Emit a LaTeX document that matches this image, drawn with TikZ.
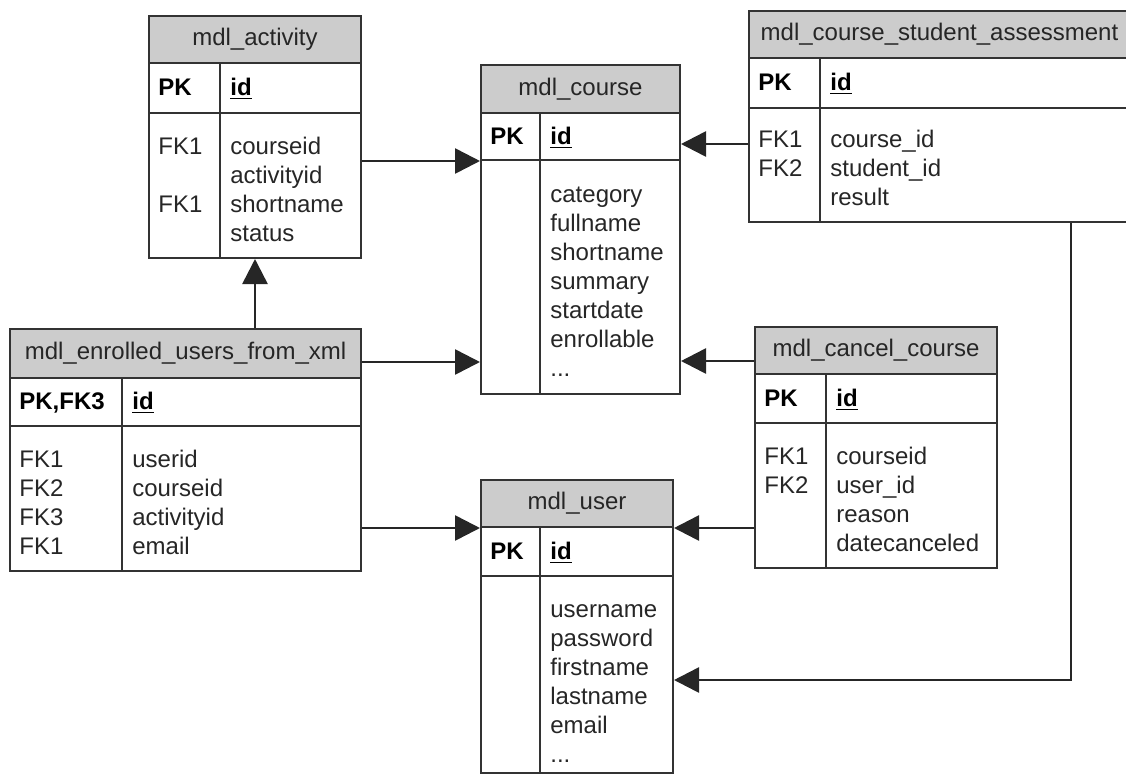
\documentclass[tikz,border=0pt]{standalone}
\usepackage{fontspec}
\setmainfont{Liberation Sans}
\usetikzlibrary{arrows.meta,fit}
\tikzset{
  tbl/.style={draw=black!80, line width=1pt, inner sep=0pt},
  tblhead/.style={tbl, fill=black!20},
  headtxt/.style={inner sep=0pt, text=black!85, font=\fontsize{12}{14.5}\selectfont},
  keytxt/.style={anchor=north west, inner sep=0pt, align=left, text=black!85,
    font=\fontsize{12}{14.5}\selectfont},
  pktxt/.style={anchor=base west, inner sep=0pt, text=black,
    font=\fontsize{12}{14.5}\selectfont\bfseries},
  fk/.style={draw=black!85, line width=1.3pt, -{Triangle[length=12.5pt,width=12.5pt]}},
}
\begin{document}
\begin{tikzpicture}[x=0.5pt,y=-0.5pt]
  \useasboundingbox (0,0) rectangle (1126,783);
  % mdl_activity
  \node[tblhead, fit={(149,16) (361,63)}, label={[headtxt]center:mdl\_activity}] (activity) {};
  \node[tbl, fit={(149,63) (361,113)}] (activity-pk) {};
  \node[tbl, fit={(149,113) (361,258)}] (activity-body) {};
  \draw[tbl] (220,63) -- (220,258);
  \node[pktxt] (activity-k0) at (158,95) {PK};
  \node[pktxt] (activity-f0) at (230,95) {\underline{id}};
  \node[keytxt] (activity-k) at (158,134) {\strut FK1\\ \\FK1\\ };
  \node[keytxt] (activity-f) at (230,134) {\strut courseid\\activityid\\shortname\\status};
  % mdl_course
  \node[tblhead, fit={(481,65) (680,113)}, label={[headtxt]center:mdl\_course}] (course) {};
  \node[tbl, fit={(481,113) (680,160)}] (course-pk) {};
  \node[tbl, fit={(481,160) (680,394)}] (course-body) {};
  \draw[tbl] (540,113) -- (540,394);
  \node[pktxt] (course-k0) at (490,144) {PK};
  \node[pktxt] (course-f0) at (550,144) {\underline{id}};
  \node[keytxt] (course-f) at (550,182) {\strut category\\fullname\\shortname\\summary\\startdate\\enrollable\\...};
  % mdl_course_student_assessment
  \node[tblhead, fit={(749,11) (1130,58)}, label={[headtxt]center:mdl\_course\_student\_assessment}] (assess) {};
  \node[tbl, fit={(749,58) (1130,108)}] (assess-pk) {};
  \node[tbl, fit={(749,108) (1130,222)}] (assess-body) {};
  \draw[tbl] (820,58) -- (820,222);
  \node[pktxt] (assess-k0) at (758,90) {PK};
  \node[pktxt] (assess-f0) at (830,90) {\underline{id}};
  \node[keytxt] (assess-k) at (758,127) {\strut FK1\\FK2};
  \node[keytxt] (assess-f) at (830,127) {\strut course\_id\\student\_id\\result};
  % mdl_enrolled_users_from_xml
  \node[tblhead, fit={(10,329) (361,378)}, label={[headtxt]center:mdl\_enrolled\_users\_from\_xml}] (enrolled) {};
  \node[tbl, fit={(10,378) (361,426)}] (enrolled-pk) {};
  \node[tbl, fit={(10,426) (361,571)}] (enrolled-body) {};
  \draw[tbl] (122,378) -- (122,571);
  \node[pktxt] (enrolled-k0) at (19,409) {PK,FK3};
  \node[pktxt] (enrolled-f0) at (132,409) {\underline{id}};
  \node[keytxt] (enrolled-k) at (19,447) {\strut FK1\\FK2\\FK3\\FK1};
  \node[keytxt] (enrolled-f) at (132,447) {\strut userid\\courseid\\activityid\\email};
  % mdl_cancel_course
  \node[tblhead, fit={(755,327) (997,374)}, label={[headtxt]center:mdl\_cancel\_course}] (cancel) {};
  \node[tbl, fit={(755,374) (997,423)}] (cancel-pk) {};
  \node[tbl, fit={(755,423) (997,568)}] (cancel-body) {};
  \draw[tbl] (826,374) -- (826,568);
  \node[pktxt] (cancel-k0) at (764,406) {PK};
  \node[pktxt] (cancel-f0) at (836,406) {\underline{id}};
  \node[keytxt] (cancel-k) at (764,444) {\strut FK1\\FK2};
  \node[keytxt] (cancel-f) at (836,444) {\strut courseid\\user\_id\\reason\\datecanceled};
  % mdl_user
  \node[tblhead, fit={(481,480) (673,527)}, label={[headtxt]center:mdl\_user}] (user) {};
  \node[tbl, fit={(481,527) (673,576)}] (user-pk) {};
  \node[tbl, fit={(481,576) (673,773)}] (user-body) {};
  \draw[tbl] (540,527) -- (540,773);
  \node[pktxt] (user-k0) at (490,559) {PK};
  \node[pktxt] (user-f0) at (550,559) {\underline{id}};
  \node[keytxt] (user-f) at (550,597) {\strut username\\password\\firstname\\lastname\\email\\...};
  % foreign keys
  \coordinate (bend) at (1071,680);
  \draw[fk] (activity-body.east |- course-pk.south) -- (course-pk.south west);
  \draw[fk] (enrolled.north -| activity-body.south) -- (activity-body.south);
  \draw[fk] ([yshift=-4.25pt]enrolled.east) -- ([yshift=-4.25pt]enrolled.east -| course-body.west);
  \draw[fk] (enrolled-body.east |- user.south) -- (user.south west);
  \draw[fk] ([yshift=-3.75pt]course-pk.east -| assess-body.west) -- ([yshift=-3.75pt]course-pk.east);
  \draw[fk] ([yshift=-5.25pt]cancel.west) -- ([yshift=-5.25pt]cancel.west -| course-body.east);
  \draw[fk] (cancel-body.west |- user.south east) -- (user.south east);
  \draw[fk] (assess-body.south -| bend) -- (bend) -- (bend -| user-body.east);
\end{tikzpicture}
\end{document}
